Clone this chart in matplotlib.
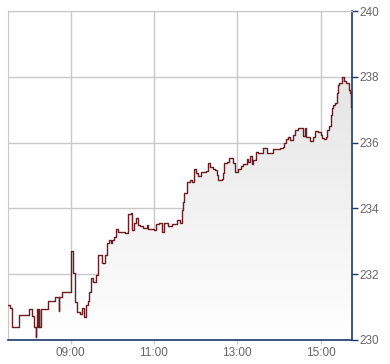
import numpy as np
import matplotlib
matplotlib.use("Agg")
import matplotlib.pyplot as plt

# intraday quotes (time, price)
times = ["07:30", "07:33", "07:36", "07:46", "08:00", "08:05", "08:08", "08:10", "08:11", "08:12",
         "08:13", "08:14", "08:15", "08:17", "08:27", "08:37", "08:43", "08:44", "08:47", "09:00",
         "09:03", "09:07", "09:10", "09:13", "09:17", "09:20", "09:22", "09:25", "09:27", "09:30",
         "09:33", "09:36", "09:39", "09:40", "09:45", "09:50", "09:52", "09:55", "09:58", "09:59",
         "10:02", "10:05", "10:08", "10:18", "10:22", "10:27", "10:28", "10:31", "10:34", "10:37",
         "10:40", "10:44", "10:50", "10:51", "11:00", "11:03", "11:08", "11:11", "11:14", "11:20",
         "11:26", "11:33", "11:37", "11:40", "11:42", "11:43", "11:47", "11:52", "11:55", "11:57",
         "12:00", "12:03", "12:07", "12:15", "12:18", "12:20", "12:25", "12:28", "12:31", "12:32",
         "12:38", "12:39", "12:41", "12:45", "12:48", "12:54", "12:56", "13:01", "13:05", "13:08",
         "13:14", "13:15", "13:18", "13:21", "13:22", "13:27", "13:30", "13:37", "13:43", "13:51",
         "14:01", "14:06", "14:07", "14:10", "14:13", "14:16", "14:20", "14:23", "14:27", "14:34",
         "14:37", "14:39", "14:45", "14:49", "14:52", "14:56", "15:00", "15:02", "15:05", "15:08",
         "15:09", "15:12", "15:15", "15:16", "15:18", "15:21", "15:24", "15:25", "15:27", "15:31",
         "15:33", "15:36", "15:40", "15:42", "15:44"]
prices = [231.06, 230.96, 230.39, 230.75, 230.93, 230.72, 230.39, 230.09, 230.39, 230.93,
          230.39, 230.93, 230.39, 230.93, 231.18, 231.30, 230.87, 231.30, 231.45, 232.70,
          232.03, 231.15, 230.84, 230.78, 230.96, 230.69, 231.06, 231.20, 231.45, 231.88,
          231.76, 231.97, 232.46, 232.58, 232.33, 232.58, 232.94, 233.03, 232.94, 233.03,
          233.12, 233.37, 233.28, 233.25, 233.82, 233.85, 233.34, 233.55, 233.70, 233.49,
          233.46, 233.40, 233.49, 233.37, 233.34, 233.52, 233.55, 233.28, 233.55, 233.46,
          233.52, 233.64, 233.55, 233.95, 234.19, 234.46, 234.80, 234.86, 234.80, 235.19,
          235.07, 234.98, 235.10, 235.13, 235.38, 235.25, 235.19, 235.16, 235.01, 234.86,
          234.89, 235.07, 235.38, 235.41, 235.53, 235.38, 235.10, 235.19, 235.28, 235.35,
          235.50, 235.41, 235.59, 235.35, 235.47, 235.71, 235.68, 235.83, 235.68, 235.80,
          235.83, 235.86, 235.98, 236.11, 236.17, 236.08, 236.23, 236.38, 236.44, 236.20,
          236.44, 236.17, 236.05, 236.17, 236.35, 236.32, 236.23, 236.14, 236.11, 236.17,
          236.38, 236.50, 236.84, 237.05, 237.14, 237.20, 237.51, 237.75, 237.81, 237.99,
          237.87, 237.81, 237.60, 237.51, 237.08]
xtick_labels = ["09:00", "11:00", "13:00", "15:00"]
yticks = [230, 232, 234, 236, 238, 240]


def hours(s):
    h, m = s.split(":")
    return int(h) + int(m) / 60.0


x = np.array([hours(t) for t in times])
y = np.array(prices)
x_end = hours("15:45")

fig = plt.figure(figsize=(3.9, 3.64), dpi=100)
ax = fig.add_axes([8 / 390, 1 - 340 / 364, 344 / 390, 329 / 364])

ax.set_xlim(x[0], x_end)
ax.set_ylim(230, 240)

# gradient fill under the line
poly = ax.fill_between(x, y, 230, step="post", facecolor="none", edgecolor="none")
grad = np.linspace(0, 1, 256).reshape(-1, 1)
cmap = matplotlib.colors.LinearSegmentedColormap.from_list("g", ["#ffffff", "#e4e4e4"])
im = ax.imshow(grad, cmap=cmap, aspect="auto", origin="lower",
               extent=[x[0], x_end, 230, 238.2], zorder=1)
im.set_clip_path(poly.get_paths()[0], transform=ax.transData)

ax.step(x, y, where="post", color="#6b1d22", lw=1.0, zorder=3)

ax.yaxis.tick_right()
ax.set_yticks(yticks)
ax.set_xticks([hours(t) for t in xtick_labels])
ax.set_xticklabels(xtick_labels)
ax.grid(True, color="#c8c8c8", lw=1.0, zorder=0)
ax.set_axisbelow(True)

for s in ["left", "top"]:
    ax.spines[s].set_color("#c8c8c8")
for s in ["right", "bottom"]:
    ax.spines[s].set_color("#1c3a6b")
    ax.spines[s].set_linewidth(1.2)

ax.tick_params(axis="y", length=4, width=1, color="#1c3a6b", labelcolor="#666666",
               labelsize=8.5, pad=1)
ax.tick_params(axis="x", length=3, width=1, color="#c8c8c8", labelcolor="#666666",
               labelsize=8.5, pad=2)
for lab in ax.get_xticklabels() + ax.get_yticklabels():
    lab.set_family("Liberation Sans")

fig.savefig("out.png", dpi=100)
